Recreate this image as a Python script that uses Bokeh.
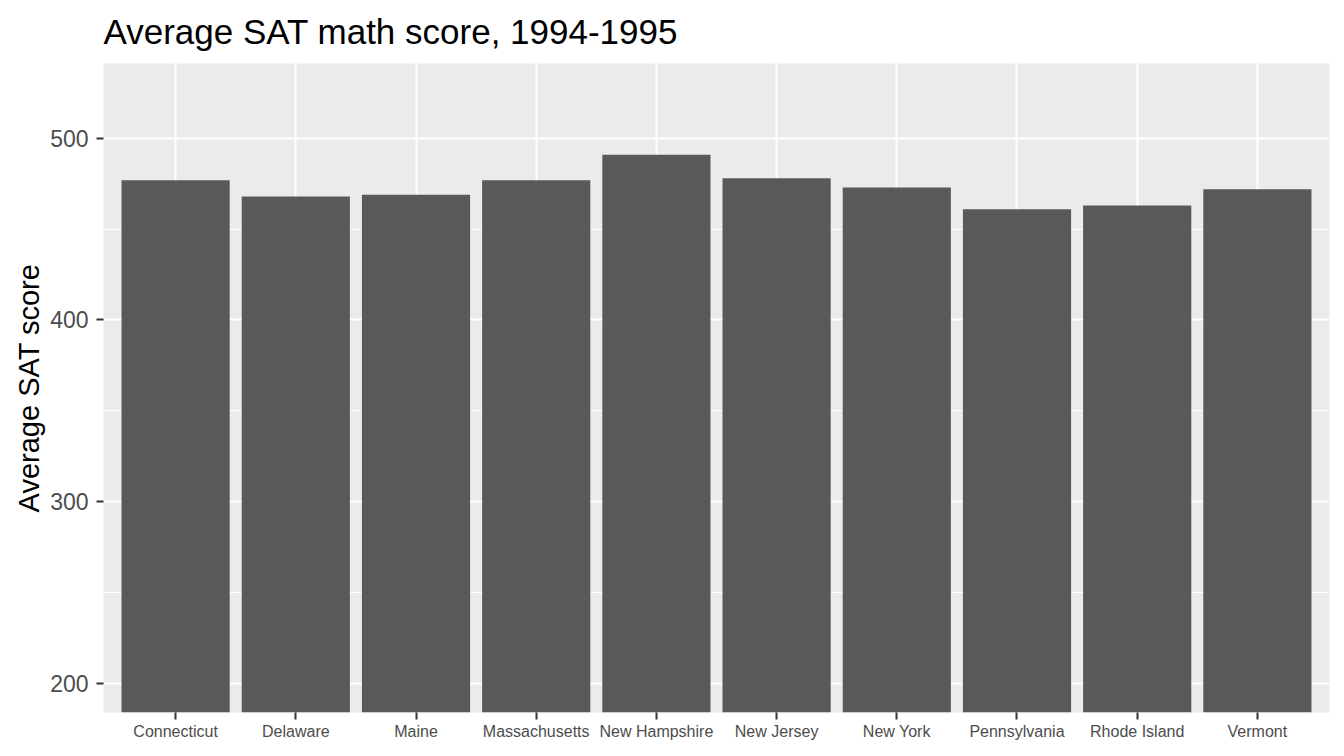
from bokeh.embed import file_html
from bokeh.models import FactorRange, FixedTicker, Range1d
from bokeh.plotting import figure
from bokeh.resources import INLINE

states = ["Connecticut", "Delaware", "Maine", "Massachusetts", "New Hampshire",
          "New Jersey", "New York", "Pennsylvania", "Rhode Island", "Vermont"]
math_scores = [477, 468, 469, 477, 491, 478, 473, 461, 463, 472]

y_ticks = [200, 300, 400, 500]
y_minor = [250, 350, 450]

FONT = "Liberation Sans"

p = figure(x_range=FactorRange(*states, range_padding=0.1, range_padding_units="absolute"),
           y_range=Range1d(183.75, 541.25),
           frame_width=1226, frame_height=649,
           min_border_left=103, min_border_right=7, min_border_top=63, min_border_bottom=36,
           output_backend="svg", toolbar_location=None,
           title="Average SAT math score, 1994-1995")

p.vbar(x=states, top=math_scores, bottom=0, width=0.9,
       fill_color="#595959", line_color=None)

# ggplot-ish grey theme
p.background_fill_color = "#EBEBEB"
p.border_fill_color = "white"
p.outline_line_color = None

p.title.text_font = FONT
p.title.text_font_size = "35px"
p.title.text_font_style = "normal"
p.title.text_color = "black"
p.title.vertical_align = "top"
p.title.standoff = 22

p.xgrid.grid_line_color = "white"
p.xgrid.grid_line_width = 2
p.ygrid.grid_line_color = "white"
p.ygrid.grid_line_width = 2
p.ygrid.minor_grid_line_color = "white"
p.ygrid.minor_grid_line_width = 1

p.yaxis.ticker = FixedTicker(ticks=y_ticks, minor_ticks=y_minor)
p.yaxis.axis_label = "Average SAT score"
p.yaxis.axis_label_text_font = FONT
p.yaxis.axis_label_text_font_size = "29px"
p.yaxis.axis_label_text_font_style = "normal"
p.yaxis.axis_label_text_color = "black"
p.yaxis.axis_label_standoff = 2
p.yaxis.major_label_text_font = FONT
p.yaxis.major_label_text_font_size = "23px"
p.yaxis.major_label_text_color = "#4D4D4D"
p.yaxis.minor_tick_line_color = None

p.xaxis.major_label_text_font = FONT
p.xaxis.major_label_text_font_size = "16px"
p.xaxis.major_label_text_color = "#4D4D4D"

for ax in (p.xaxis, p.yaxis):
    ax.axis_line_color = None
    ax.major_tick_line_color = "#333333"
    ax.major_tick_line_width = 2
    ax.major_tick_out = 7
    ax.major_tick_in = 0

p.yaxis.major_label_standoff = 8
p.xaxis.major_label_standoff = 3

open("out.html", "w").write(file_html(p, INLINE))
